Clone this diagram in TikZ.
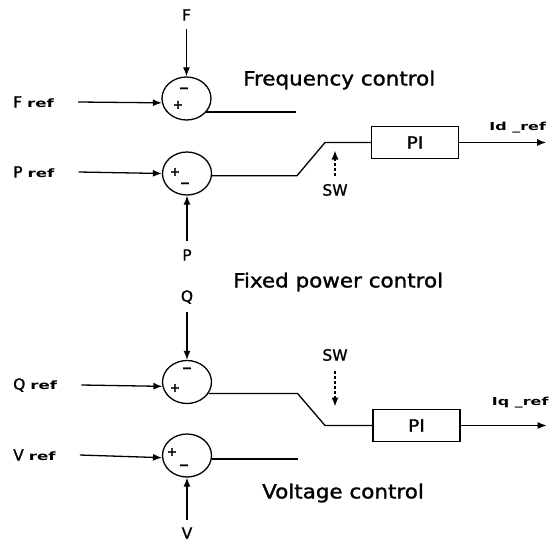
\documentclass[tikz,border=0pt]{standalone}
\usepackage{fontspec}
\setmainfont{DejaVu Sans}[FakeBold=1.2]
\newfontfamily\headfont{DejaVu Sans}[FakeStretch=1.1,FakeBold=1.4]
\newfontfamily\subfont{DejaVu Sans}[FakeStretch=1.45]
\usepackage{tikz}
\usetikzlibrary{
  arrows.meta,
  positioning,
  shapes.geometric
}
\newcommand{\refword}{{\subfont\bfseries\fontsize{11.5}{12}\selectfont ref}}

\begin{document}
\begin{tikzpicture}[x=1pt,y=-1pt,
  sum/.style={draw,ellipse,line width=1.3pt,minimum width=49pt,
              minimum height=43pt,inner sep=0pt},
  pibox/.style={draw,line width=1.3pt,minimum width=87pt,minimum height=32pt,
                font=\headfont\fontsize{17}{20}\selectfont},
  sig/.style={font=\fontsize{15.5}{18}\selectfont,inner sep=4pt},
  head/.style={font=\headfont\fontsize{19.5}{23}\selectfont,anchor=west,inner sep=0pt},
  sgn/.style={font=\bfseries\fontsize{12.5}{13}\selectfont,inner sep=0pt},
  outlbl/.style={font=\subfont\bfseries\fontsize{11}{12}\selectfont,inner sep=0pt},
  arr/.style={-{Latex[length=9pt,width=7pt]},line width=1.3pt},
  wire/.style={line width=1.3pt},
  swarr/.style={arr,densely dashed},
]
\useasboundingbox (0,0) rectangle (553,548);

% summing junctions
\node[sum] (c1) at (186.5,98.5) {};
\node[sum] (c2) at (187,173.5) {};
\node[sum] (c3) at (187,382) {};
\node[sum] (c4) at (187,455.5) {};
\node[sgn] (c1m) at ([shift={(-2.5,-8.5)}]c1.center) {−};
\node[sgn] (c1p) at ([shift={(-8.5,6.5)}]c1.center)  {+};
\node[sgn] (c2p) at ([shift={(-12,-1.5)}]c2.center)  {+};
\node[sgn] (c2m) at ([shift={(-2,11.5)}]c2.center)   {−};
\node[sgn] (c3m) at ([shift={(0,-12)}]c3.center)     {−};
\node[sgn] (c3p) at ([shift={(-12,6)}]c3.center)     {+};
\node[sgn] (c4p) at ([shift={(-15,-3.5)}]c4.center)  {+};
\node[sgn] (c4m) at ([shift={(-3,11.5)}]c4.center)   {−};

% signals
\node[sig] (f) at (186.5,15) {F};
\node[sig,anchor=west] (fref) at (9,102) {F\hspace{5pt}\refword};
\node[sig] (p) at (187,255) {P};
\node[sig,anchor=west] (pref) at (9,172) {P\hspace{5pt}\refword};
\node[sig] (q) at (187,297) {Q};
\node[sig,anchor=west] (qref) at (9,385) {Q\hspace{5pt}\refword};
\node[sig,anchor=west] (vref) at (9,455) {V\hspace{5pt}\refword};
\node[sig] (v) at (187,533) {V};

% mode texts
\node[head] (freqtxt) at (243,80)  {Frequency control};
\node[head] (fixtxt)  at (233,282) {Fixed power control};
\node[head] (volttxt) at (262,493) {Voltage control};

% controllers
\node[pibox] (pi1) at (415,142.5) {PI};
\node[pibox] (pi2) at (416.5,425.5) {PI};
\node[sig] (sw1lbl) at (335,190) {SW};
\node[sig] (sw2lbl) at (335,355) {SW};
\coordinate (sw1) at (325,142.5);
\coordinate (sw2) at (325,425.5);

\draw[arr,shorten <=4pt] (f) -- (c1.north);
\draw[arr] ([xshift=20pt]fref.east) -- (c1.190);
\draw[wire] (c1.-34) -- ++(90,0) coordinate (fend);
\draw[arr] ([xshift=20pt]pref.east) -- (c2.west);
\draw[arr,shorten <=4pt] (p) -- (c2.south);
\draw[wire] (c2.-5) -- ++(85,0) -- (sw1) -- (pi1.west);
\draw[arr] (pi1.east) -- ++(87,0) coordinate (idout);
\node[outlbl,above left=9pt and 0pt of idout] (idref) {Id \_ref};
\draw[swarr,shorten <=4pt,shorten >=8pt] (sw1lbl) -- (sw1lbl |- sw1);

\draw[arr,shorten <=4pt] (q) -- (c3.north);
\draw[arr] ([xshift=20pt]qref.east) -- (c3.190);
\draw[wire] (c3.-28) -- ++(89,0) -- (sw2) -- (pi2.west);
\draw[arr] (pi2.east) -- ++(86,0) coordinate (iqout);
\node[outlbl,above left=17pt and -2pt of iqout] (iqref) {Iq \_ref};
\draw[swarr,shorten <=6pt,shorten >=19pt] (sw2lbl) -- (sw2lbl |- sw2);

\draw[arr] ([xshift=20pt]vref.east) -- (c4.185);
\draw[wire] (c4.-8) -- ++(86,0) coordinate (vend);
\draw[arr,shorten <=3pt] (v) -- (c4.south);
\end{tikzpicture}
\end{document}
